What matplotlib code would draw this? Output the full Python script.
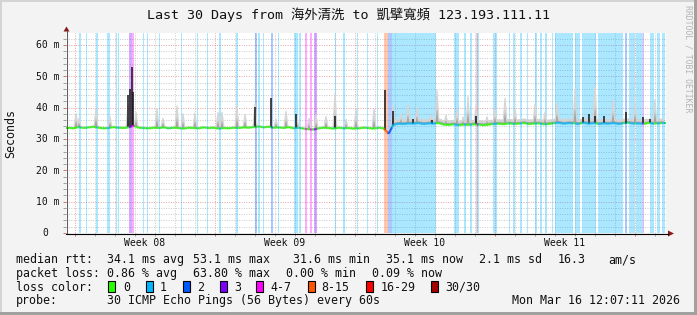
import numpy as np
import matplotlib.pyplot as plt
from matplotlib.collections import LineCollection, PolyCollection
from matplotlib.patches import Rectangle, Polygon
from matplotlib.lines import Line2D
from matplotlib.transforms import Affine2D, offset_copy

W, H = 697, 315
MONO = "DejaVu Sans Mono"
TITLE_FONTS = ["DejaVu Sans Mono", "Noto Sans CJK TC"]

# ---- data (time in days since the start of the 30 day window, rtt in ms) ----
MEDIAN_DAYS = np.arange(120) * 0.25 + 0.125
MEDIAN_MS = [
    33.6, 33.4, 33.8, 33.5, 33.7, 33.9, 33.6, 33.4, 33.5, 33.8, 33.6, 33.5,
    33.7, 34.2, 33.6, 33.5, 33.4, 33.6, 33.5, 33.7, 33.4, 33.6, 33.5, 33.3,
    33.6, 33.5, 33.4, 33.7, 33.5, 33.6, 33.3, 33.5, 33.4, 33.6, 33.5, 33.7,
    33.6, 33.8, 34.0, 33.7, 33.9, 33.6, 33.7, 33.5, 33.8, 33.4, 33.6, 33.3,
    33.1, 33.0, 33.4, 33.6, 33.5, 33.3, 33.6, 33.4, 33.5, 33.3, 33.4, 33.6,
    33.5, 33.3, 33.6, 33.4, 31.7, 34.6, 34.9, 34.8, 35.0, 34.9, 35.1, 34.8,
    35.0, 34.9, 35.1, 34.6, 34.5, 34.7, 34.4, 34.6, 34.5, 34.7, 34.6, 34.4,
    34.6, 34.8, 34.9, 34.7, 35.0, 34.8, 34.9, 35.1, 34.8, 34.9, 35.0, 34.7,
    34.8, 35.0, 35.2, 34.9, 35.1, 35.0, 34.8, 35.2, 34.9, 35.1, 34.8, 35.0,
    34.9, 35.1, 34.8, 35.0, 35.2, 34.9, 35.0, 34.8, 35.1, 34.9, 35.0, 35.1,
]

# packet loss periods: start day, end day, loss class index
LOSS_START = [0.65, 1.00, 1.50, 2.05, 2.50, 2.60, 3.15, 3.30, 3.85, 4.03,
              4.67, 5.08, 5.23, 5.73, 6.53, 7.05, 7.65, 8.50, 9.47, 9.62,
              9.85, 10.25, 10.60, 11.40, 11.65, 11.95, 12.20, 12.40, 13.45, 13.85,
              14.55, 15.05, 15.55, 15.90, 16.10, 16.30, 19.40, 19.90, 20.20, 20.50,
              20.55, 20.60, 21.35, 22.15, 22.35, 22.70, 23.05, 23.45, 23.70, 23.95,
              24.30, 24.45, 25.45, 25.80, 26.60, 27.95, 28.15, 28.50, 28.83, 28.88,
              29.20, 29.55, 29.80]
LOSS_END = [0.75, 1.05, 1.58, 2.20, 2.57, 2.67, 3.30, 3.42, 3.90, 4.08,
            4.72, 5.12, 5.27, 5.78, 6.58, 7.10, 7.75, 8.58, 9.53, 9.68,
            9.90, 10.35, 10.65, 11.58, 11.75, 12.05, 12.30, 12.55, 13.50, 13.95,
            14.60, 15.10, 15.60, 16.10, 16.30, 18.50, 19.65, 20.00, 20.30, 20.55,
            20.60, 20.65, 21.55, 22.20, 22.45, 22.80, 23.10, 23.55, 23.80, 24.05,
            24.35, 25.35, 25.70, 26.50, 27.85, 28.05, 28.45, 28.83, 28.88, 28.90,
            29.40, 29.70, 29.95]
LOSS_CLASS = [1, 1, 1, 1, 1, 1, 3, 4, 1, 1,
              1, 1, 1, 1, 1, 1, 1, 1, 2, 1,
              1, 2, 1, 1, 1, 4, 4, 3, 1, 1,
              1, 1, 1, 5, 2, 1, 1, 1, 1, 1,
              6, 1, 1, 1, 1, 1, 1, 1, 1, 1,
              1, 1, 1, 1, 1, 2, 1, 1, 4, 1,
              1, 1, 1]

# light smoke peaks (day, top in ms)
SMOKE_DAY = [0.50, 0.65, 1.50, 2.20, 3.10, 3.50, 4.55, 4.85, 5.55, 5.85,
             6.45, 7.60, 7.80, 8.55, 8.95, 9.45, 10.50, 11.00, 11.55, 12.15,
             12.50, 13.00, 13.45, 14.00, 14.50, 15.40, 16.35, 16.75, 17.10, 17.55,
             18.25, 18.55, 19.00, 19.55, 19.85, 20.10, 20.50, 21.05, 21.45, 21.95,
             22.45, 23.45, 23.95, 24.55, 25.45, 26.45, 27.35, 28.45, 29.45]
SMOKE_TOP = [38.6, 37.0, 40.0, 37.5, 41.0, 39.0, 40.0, 37.0, 41.0, 38.5,
             38.7, 38.9, 39.0, 40.8, 38.3, 41.5, 36.7, 39.3, 37.5, 37.0,
             38.3, 37.6, 45.0, 36.7, 39.9, 40.0, 40.8, 38.5, 41.5, 40.5,
             38.0, 46.0, 38.0, 40.0, 37.5, 44.0, 41.0, 37.5, 40.0, 43.4,
             40.0, 41.5, 39.0, 42.0, 46.5, 47.5, 43.0, 42.0, 43.0]
# smoke band thickness above the median for two periods
SMOKE_BAND_FROM = [0.0, 16.1]
SMOKE_BAND_MS = [0.6, 1.6]

# dense (dark) smoke spikes (day, top in ms)
DARK_DAY = [3.10, 3.20, 3.30, 3.35, 9.45, 10.25, 11.50, 13.45, 15.97, 16.33,
            17.35, 18.30, 20.50, 25.85, 26.15, 26.45, 26.90, 28.00, 28.85, 29.20]
DARK_TOP = [44.0, 46.0, 53.1, 45.0, 40.2, 43.0, 38.0, 37.3, 45.6, 39.0,
            36.4, 36.0, 37.3, 37.0, 38.0, 37.5, 37.5, 38.6, 37.0, 36.5]

WEEK_CENTERS = [3.95, 10.95, 17.95, 24.95]
WEEK_LABELS = ["Week 08", "Week 09", "Week 10", "Week 11"]
WEEK_START = 0.45
Y_MAJOR = [0, 10, 20, 30, 40, 50, 60]
Y_LABELS = ["0", "10 m", "20 m", "30 m", "40 m", "50 m", "60 m"]

LOSS_COLORS = ["#26ff00", "#00b8ff", "#0059ff", "#7e00ff", "#ff00ff",
               "#ff5500", "#ff0000", "#a10000"]
LOSS_LABELS = ["0", "1", "2", "3", "4-7", "8-15", "16-29", "30/30"]

TITLE = "Last 30 Days from 海外清洗 to 凱擘寬頻 123.193.111.11"
STATS = [
    ("median rtt:", 16), ("34.1 ms avg", 107), ("53.1 ms max", 193),
    ("31.6 ms min", 293), ("35.1 ms now", 386), ("2.1 ms sd", 479),
    ("16.3", 558), ("am/s", 608),
]
LOSS_STATS = [
    ("packet loss:", 16), ("0.86 % avg", 107), ("63.80 % max", 193),
    ("0.00 % min", 286), ("0.09 % now", 372),
]
BOX_X = [108, 145.5, 182.5, 219.5, 256, 307.5, 366, 430.5]
BOX_LABEL_X = [123, 160, 197, 234, 270.5, 321.5, 380.5, 445]
PROBE = "30 ICMP Echo Pings (56 Bytes) every 60s"
STAMP = "Mon Mar 16 12:07:11 2026"


def loss_class_at(t):
    for s, e, c in zip(LOSS_START, LOSS_END, LOSS_CLASS):
        if s <= t < e:
            return c
    return 0


def main():
    fig = plt.figure(figsize=(W / 100, H / 100), dpi=100, facecolor="#f3f3f3")
    px = Affine2D().scale(1 / W, -1 / H).translate(0, 1) + fig.transFigure

    ax = fig.add_axes([66 / W, (H - 233) / H, 600 / W, 200 / H])
    ax.set_facecolor("white")
    ax.set_xlim(0, 30)
    ax.set_ylim(0, 200 * 60 / 188)
    for s in ax.spines.values():
        s.set_visible(False)

    # grid
    dot = (0, (1, 1.5))
    for d in np.arange(WEEK_START, 30, 1.0):
        major = abs((d - WEEK_START) % 7) < 1e-6
        ax.axvline(d, color="#e6a0a0" if major else "#c8c8c8", lw=0.7, ls=dot, zorder=0.5)
    for v in range(2, 64, 2):
        ax.axhline(v, color="#e6a0a0" if v % 10 == 0 else "#c8c8c8", lw=0.7, ls=dot, zorder=0.5)

    # loss stripes
    for s, e, c in zip(LOSS_START, LOSS_END, LOSS_CLASS):
        ax.axvspan(s, e, color=LOSS_COLORS[c], alpha=0.33, lw=0, zorder=1)

    med = np.array(MEDIAN_MS)
    # smoke band
    band = np.where(MEDIAN_DAYS >= SMOKE_BAND_FROM[1], SMOKE_BAND_MS[1], SMOKE_BAND_MS[0])
    ax.fill_between(MEDIAN_DAYS, med, med + band, color="#d2d2d2", lw=0, zorder=2)
    ax.fill_between(MEDIAN_DAYS, med, med + band * 0.45, color="#a8a8a8", lw=0, zorder=2.05)
    # smoke peaks as narrow tapered shapes
    base = np.interp(SMOKE_DAY, MEDIAN_DAYS, med)
    outer, inner = [], []
    for d, b, t in zip(SMOKE_DAY, base, SMOKE_TOP):
        outer.append([(d - 0.13, b), (d - 0.03, t - 0.3), (d + 0.03, t - 0.3), (d + 0.13, b)])
        inner.append([(d - 0.08, b), (d, b + 0.45 * (t - b)), (d + 0.08, b)])
    ax.add_collection(PolyCollection(outer, facecolors="#d6d6d6", edgecolors="none", zorder=2))
    ax.add_collection(PolyCollection(inner, facecolors="#a6a6a6", edgecolors="none", zorder=2.1))
    # dark spikes
    dbase = np.interp(DARK_DAY, MEDIAN_DAYS, med)
    ax.vlines(DARK_DAY, dbase, DARK_TOP, color="#151515", lw=1.1, zorder=2.5)

    # median line coloured by loss class
    tt = np.linspace(0, 30, 1201)
    mm = np.interp(tt, MEDIAN_DAYS, med)
    pts = np.column_stack([tt, mm])
    segs = np.stack([pts[:-1], pts[1:]], axis=1)
    cols = [LOSS_COLORS[loss_class_at(0.5 * (a + b))] for a, b in zip(tt[:-1], tt[1:])]
    ax.add_collection(LineCollection(segs, colors=cols, lw=1.5, zorder=3, capstyle="butt"))

    # ticks
    ax.set_xticks(np.arange(WEEK_START, 30, 7.0))
    ax.set_xticks(np.arange(WEEK_START, 30, 1.0), minor=True)
    ax.set_yticks(Y_MAJOR)
    ax.set_yticks(range(0, 64, 2), minor=True)
    ax.tick_params(which="both", direction="out", length=2, width=0.7,
                   labelbottom=False, labelleft=False)
    ax.tick_params(which="major", color="#d07070")
    ax.tick_params(which="minor", color="#a0a0a0")

    ylab_tr = offset_copy(ax.get_yaxis_transform(), fig=fig, x=-6, y=-3.2, units="dots")
    zero_tr = offset_copy(ax.get_yaxis_transform(), fig=fig, x=-21, y=-3.2, units="dots")
    for v, lab in zip(Y_MAJOR, Y_LABELS):
        if lab == "0":
            ax.text(0, v, lab, transform=zero_tr, ha="center", va="baseline",
                    family=MONO, fontsize=7, color="#111111")
        else:
            ax.text(0, v, lab, transform=ylab_tr, ha="right", va="baseline",
                    family=MONO, fontsize=7, color="#111111")
    xlab_tr = offset_copy(ax.get_xaxis_transform(), fig=fig, y=-12.5, units="dots")
    for d, lab in zip(WEEK_CENTERS, WEEK_LABELS):
        ax.text(d, 0, lab, transform=xlab_tr, ha="center", va="baseline",
                family=MONO, fontsize=7, color="#111111")

    # axis lines and arrows
    fig.add_artist(Line2D([66.5, 66.5], [233, 31], transform=px, color="#606060", lw=0.8))
    fig.add_artist(Line2D([66, 668], [233.5, 233.5], transform=px, color="#000000", lw=0.8))
    fig.add_artist(Polygon([[63.5, 31.5], [69.5, 31.5], [66.5, 26.5]], closed=True,
                           transform=px, color="#8b1a1a", lw=0))
    fig.add_artist(Polygon([[668, 230.5], [668, 236.5], [674, 233.5]], closed=True,
                           transform=px, color="#8b1a1a", lw=0))

    # frame
    fig.add_artist(Rectangle((0, 0), W, 2, transform=px, color="#d4d4d4", lw=0))
    fig.add_artist(Rectangle((0, 0), 2, H, transform=px, color="#d4d4d4", lw=0))
    fig.add_artist(Rectangle((0, H - 3), W, 3, transform=px, color="#a0a0a0", lw=0))
    fig.add_artist(Rectangle((W - 3, 0), 3, H, transform=px, color="#a0a0a0", lw=0))

    # texts
    fig.text(348.5, 19.3, TITLE, transform=px, ha="center", va="baseline",
             family=TITLE_FONTS, fontsize=9.6, color="#111111")
    fig.text(11, 133, "Seconds", transform=px, ha="center", va="center", rotation=90,
             family=MONO, fontsize=8.4, color="#111111")
    fig.text(688, 5, "RRDTOOL / TOBI OETIKER", transform=px, ha="center", va="top",
             rotation=-90, family=MONO, fontsize=5.9, color="#b4b4b4")

    lines_y = [263.3, 277.0, 290.7, 304.4]
    for txt, x in STATS:
        fig.text(x, lines_y[0], txt, transform=px, ha="left", va="baseline",
                 family=MONO, fontsize=8.4, color="#111111")
    for txt, x in LOSS_STATS:
        fig.text(x, lines_y[1], txt, transform=px, ha="left", va="baseline",
                 family=MONO, fontsize=8.4, color="#111111")
    fig.text(16, lines_y[2], "loss color:", transform=px, ha="left", va="baseline",
             family=MONO, fontsize=8.4, color="#111111")
    for bx, lx, col, lab in zip(BOX_X, BOX_LABEL_X, LOSS_COLORS, LOSS_LABELS):
        fig.add_artist(Rectangle((bx, 281.2), 7.3, 10.4, transform=px, facecolor=col,
                                 edgecolor="#000000", lw=0.8))
        fig.text(lx, lines_y[2], lab, transform=px, ha="left", va="baseline",
                 family=MONO, fontsize=8.4, color="#111111")
    fig.text(16, lines_y[3], "probe:", transform=px, ha="left", va="baseline",
             family=MONO, fontsize=8.4, color="#111111")
    fig.text(107, lines_y[3], PROBE, transform=px, ha="left", va="baseline",
             family=MONO, fontsize=8.4, color="#111111")
    fig.text(512.5, lines_y[3], STAMP, transform=px, ha="left", va="baseline",
             family=MONO, fontsize=8.4, color="#111111")

    fig.savefig("out.png", dpi=100, facecolor=fig.get_facecolor())


if __name__ == "__main__":
    main()
